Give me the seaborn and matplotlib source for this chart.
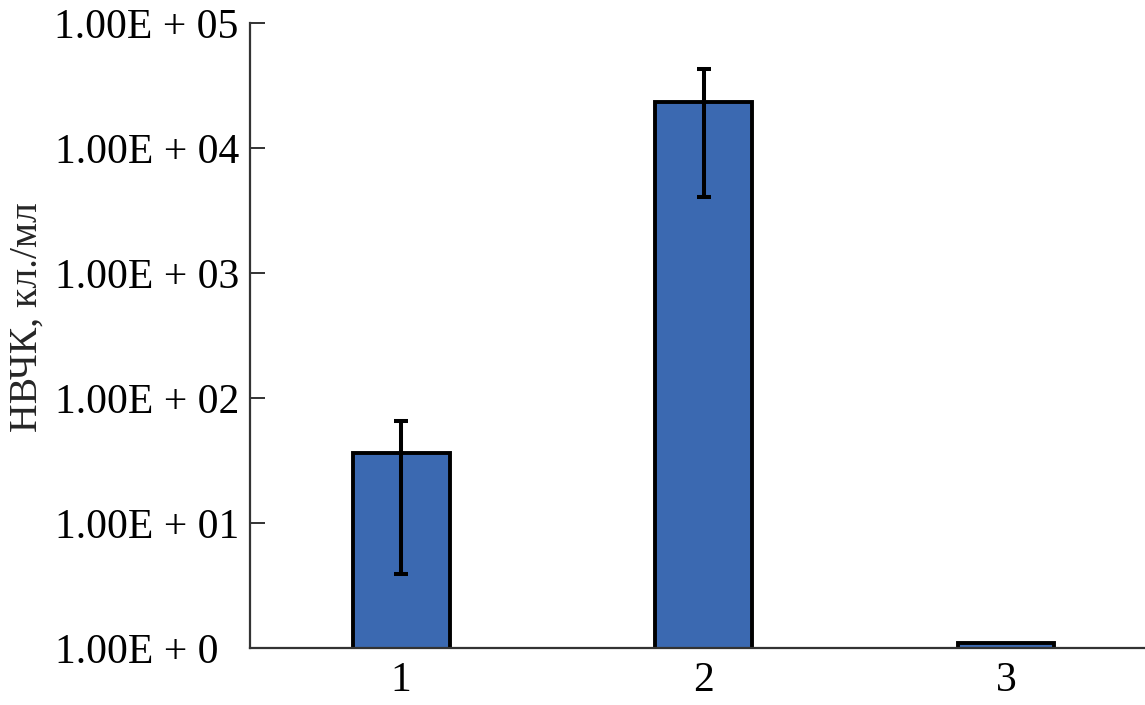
import matplotlib
matplotlib.use("Agg")
import matplotlib.pyplot as plt
import seaborn as sns
import numpy as np

# data
groups = ["1", "2", "3"]
values = [36, 23300, 1.1]
err_low = [3.9, 4060, np.nan]
err_high = [65.5, 42900, np.nan]
ytick_vals = [1, 10, 100, 1000, 10000, 100000]
ytick_labels = ["1.00E + 0  ", "1.00E + 01", "1.00E + 02",
                "1.00E + 03", "1.00E + 04", "1.00E + 05"]

sns.set_style("white")
plt.rcParams["font.family"] = ["Liberation Serif", "DejaVu Serif"]

fig = plt.figure(figsize=(11.45, 7.05), dpi=100)
ax = fig.add_axes([0.2183, 0.0809, 0.7817, 0.8865])

sns.barplot(x=groups, y=values, color="#3B69B1", saturation=1,
            width=0.32, edgecolor="black", linewidth=2.8, ax=ax)
ax.set_yscale("log")

# error bars
x = np.arange(len(groups))
vals = np.array(values, dtype=float)
lo = vals - np.array(err_low)
hi = np.array(err_high) - vals
mask = ~np.isnan(lo)
ax.errorbar(x[mask], vals[mask], yerr=[lo[mask], hi[mask]], fmt="none",
            ecolor="black", elinewidth=2.9, capsize=5, capthick=2.9, zorder=5)

ax.set_ylim(1, 1e5)
ax.set_xlim(-0.5, 2.46)
ax.set_yticks(ytick_vals)
ax.set_yticklabels(ytick_labels)
ax.yaxis.set_minor_locator(matplotlib.ticker.NullLocator())
ax.tick_params(axis="y", direction="in", length=11, width=1.3, labelsize=30,
               left=True, pad=8, colors="#222222", labelcolor="black")
ax.tick_params(axis="x", length=0, labelsize=30, pad=10, labelcolor="black")

for side in ["top", "right"]:
    ax.spines[side].set_visible(False)
for side in ["left", "bottom"]:
    ax.spines[side].set_color("#333333")
    ax.spines[side].set_linewidth(1.6)

ax.set_xlabel("")
ax.set_ylabel("НВЧК, кл./мл", fontsize=28.5)
ax.yaxis.set_label_coords(-0.228, 0.53)

fig.savefig("out.png", dpi=100)
